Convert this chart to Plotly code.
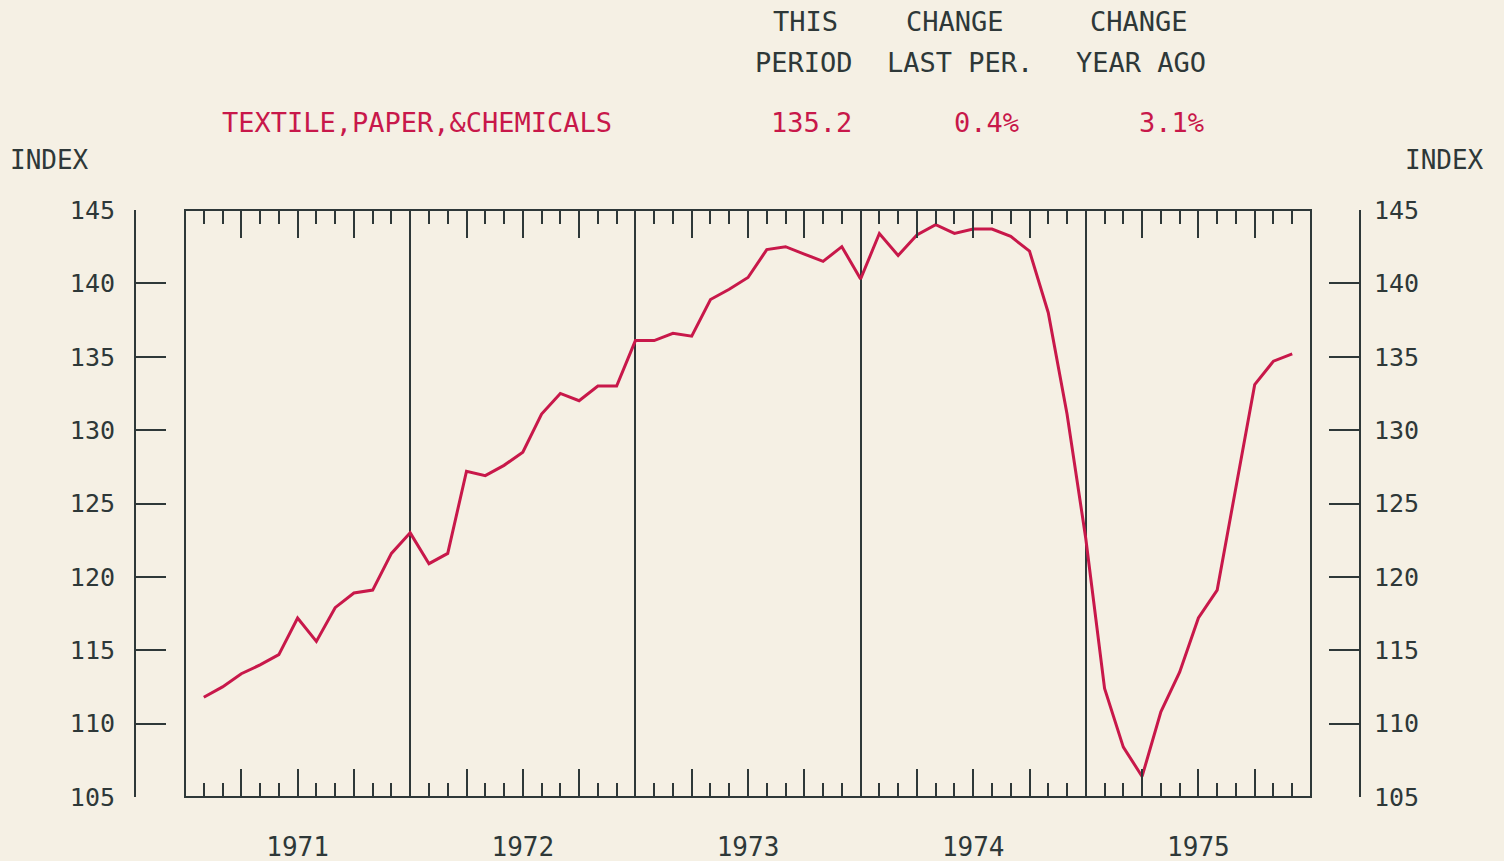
import plotly.graph_objects as go

# ---- data ----
months = list(range(1, 60))  # month index from Jan 1971 (1 = end of Jan 1971)
index_values = [
    111.8, 112.5, 113.4, 114.0, 114.7, 117.2, 115.6, 117.9, 118.9, 119.1, 121.6, 123.0,
    120.9, 121.6, 127.2, 126.9, 127.6, 128.5, 131.1, 132.5, 132.0, 133.0, 133.0, 136.1,
    136.1, 136.6, 136.4, 138.9, 139.6, 140.4, 142.3, 142.5, 142.0, 141.5, 142.5, 140.3,
    143.4, 141.9, 143.3, 144.0, 143.4, 143.7, 143.7, 143.2, 142.2, 138.0, 131.1, 122.6,
    112.4, 108.4, 106.4, 110.8, 113.5, 117.2, 119.1, 126.0, 133.1, 134.7, 135.2,
]
year_labels = ["1971", "1972", "1973", "1974", "1975"]
year_centers = [6, 18, 30, 42, 54]
year_bounds = [12, 24, 36, 48]
y_ticks = [105, 110, 115, 120, 125, 130, 135, 140, 145]
series_name = "TEXTILE,PAPER,&CHEMICALS"
this_period = "135.2"
change_last = "0.4%"
change_year = "3.1%"

# ---- style ----
BG = "#F5F0E4"
INK = "#2E3838"
RED = "#C8184A"
FONT = "DejaVu Sans Mono"

W, H = 1504, 861
ML, MR, MT, MB = 135, 144, 210, 64
PW = W - ML - MR
PH = H - MT - MB


def px(x):
    return (x - ML) / PW


def py(y):
    return (H - MB - y) / PH


dom = [px(185), px(1311)]

fig = go.Figure()
fig.add_trace(go.Scatter(
    x=months, y=index_values, mode="lines",
    line=dict(color=RED, width=3), xaxis="x", yaxis="y",
    hoverinfo="x+y", showlegend=False,
))

# major ticks every quarter, labels at year centres
maj_vals = list(range(0, 61, 3))
maj_text = [year_labels[year_centers.index(v)] if v in year_centers else "" for v in maj_vals]

common_x = dict(
    range=[0, 60], domain=dom, showgrid=False, zeroline=False,
    showline=False, ticks="inside", ticklen=28, tickwidth=2, tickcolor=INK,
    minor=dict(dtick=1, tick0=0, ticks="inside", ticklen=14, tickwidth=2, tickcolor=INK, showgrid=False),
    fixedrange=True,
)

fig.update_layout(
    width=W, height=H,
    margin=dict(l=ML, r=MR, t=MT, b=MB, autoexpand=False),
    paper_bgcolor=BG, plot_bgcolor=BG,
    font=dict(family=FONT, color=INK, size=26),
    xaxis=dict(
        **common_x, side="bottom", anchor="y",
        tickmode="array", tickvals=maj_vals, ticktext=maj_text,
        tickfont=dict(size=26, color=INK), ticklabelstandoff=32,
    ),
    xaxis2=dict(
        **common_x, side="top", anchor="y", overlaying="x", matches="x",
        tickmode="array", tickvals=maj_vals, showticklabels=False,
    ),
    xaxis3=dict(
        range=[0, 60], domain=dom, overlaying="x", matches="x", anchor="y",
        tickmode="array", tickvals=year_bounds, showticklabels=False,
        ticks="", showgrid=True, gridcolor=INK, gridwidth=2, zeroline=False,
        showline=False, fixedrange=True,
    ),
    yaxis=dict(
        range=[105, 145], anchor="free", position=0, side="left",
        tickmode="array", tickvals=y_ticks, ticks="inside", ticklen=30,
        tickwidth=2, tickcolor=INK, showline=True, linecolor=INK, linewidth=2,
        showgrid=False, zeroline=False, tickfont=dict(size=25, color=INK),
        ticklabelstandoff=14, fixedrange=True,
    ),
    yaxis2=dict(
        range=[105, 145], anchor="free", position=1, side="right",
        overlaying="y", matches="y",
        tickmode="array", tickvals=y_ticks, ticks="inside", ticklen=30,
        tickwidth=2, tickcolor=INK, showline=True, linecolor=INK, linewidth=2,
        showgrid=False, zeroline=False, tickfont=dict(size=25, color=INK),
        ticklabelstandoff=8, fixedrange=True,
    ),
)

# dummy invisible traces to activate the overlay axes
fig.add_trace(go.Scatter(x=[None], y=[None], xaxis="x2", yaxis="y", showlegend=False, hoverinfo="skip"))
fig.add_trace(go.Scatter(x=[None], y=[None], xaxis="x3", yaxis="y", showlegend=False, hoverinfo="skip"))
fig.add_trace(go.Scatter(x=[None], y=[None], xaxis="x", yaxis="y2", showlegend=False, hoverinfo="skip"))

# plot frame
fig.add_shape(type="rect", xref="x domain", yref="y domain", x0=0, x1=1, y0=0, y1=1,
              line=dict(color=INK, width=2), layer="above")


def ann(text, x, y, color=INK, size=26, xanchor="center"):
    fig.add_annotation(text=text, x=px(x), y=py(y), xref="paper", yref="paper",
                       showarrow=False, xanchor=xanchor, yanchor="middle",
                       font=dict(family=FONT, size=size, color=color))


ann("INDEX", 8, 160, xanchor="left")
ann("INDEX", 1486, 160, xanchor="right")
ann("THIS", 805, 22, size=27)
ann("PERIOD", 804, 62, size=27)
ann("CHANGE", 955, 22, size=27)
ann("LAST PER.", 960, 62, size=27)
ann("CHANGE", 1139, 22, size=27)
ann("YEAR AGO", 1141, 62, size=27)
ann(series_name, 220, 122, color=RED, size=27, xanchor="left")
ann(this_period, 854, 122, color=RED, size=27, xanchor="right")
ann(change_last, 1021, 122, color=RED, size=27, xanchor="right")
ann(change_year, 1206, 122, color=RED, size=27, xanchor="right")

fig.write_html(
    "out.html",
    config={"displayModeBar": False},
    post_script="document.body.style.margin='0';document.body.style.overflow='hidden';"
                "document.body.style.background='" + BG + "';",
)
